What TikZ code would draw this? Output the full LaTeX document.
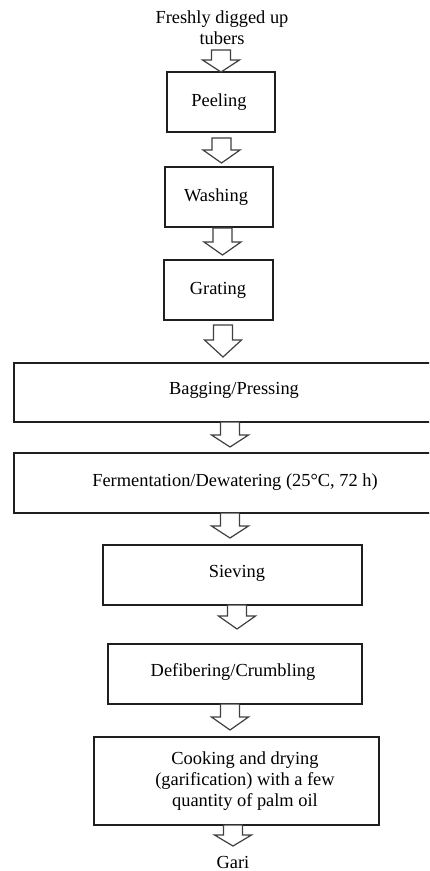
\documentclass[tikz,border=0pt]{standalone}
\usepackage{fontspec}
\setmainfont{Liberation Serif}
\tikzset{
  box/.style={draw=black!88, line width=1.5pt, rectangle, inner sep=0pt},
  lbl/.style={font=\fontsize{18.4}{21}\selectfont, align=center, inner sep=0pt},
  arr/.style={draw=black!75, line width=1.2pt, line join=miter, fill=white},
}
% #1 centre x, #2 top y, #3 shoulder y, #4 tip y
\newcommand\blockarr[4]{%
  \draw[arr] (#1-9.5,#2) -- (#1+9.5,#2) -- (#1+9.5,#3) -- (#1+18.5,#3) -- (#1,#4)
    -- (#1-18.5,#3) -- (#1-9.5,#3) -- cycle;}
\begin{document}
\begin{tikzpicture}[x=1pt,y=-1pt]
\useasboundingbox (0,0) rectangle (429,871);
\clip (0,0) rectangle (429,871);
\fill[white] (0,0) rectangle (429,871);

% title
\node[lbl] (start) at (222,28) {Freshly digged up\\tubers};

% boxes
\node[box, minimum width=108pt, minimum height=60pt] (peel) at (221,102) {};
\node[box, minimum width=108pt, minimum height=60pt] (wash) at (219,197) {};
\node[box, minimum width=109pt, minimum height=60pt] (grat) at (218.5,290) {};
\node[box, minimum width=420pt, minimum height=59pt] (bag) at (224,392.5) {};
\node[box, minimum width=420pt, minimum height=60pt] (ferm) at (224,483) {};
\node[box, minimum width=259pt, minimum height=60pt] (siev) at (232.5,575) {};
\node[box, minimum width=254pt, minimum height=60pt] (defib) at (235,674) {};
\node[box, minimum width=285pt, minimum height=88pt] (cook) at (236.5,781) {};

% texts
\node[lbl] (tpeel) at (219,102) {Peeling};
\node[lbl] (twash) at (216,197) {Washing};
\node[lbl] (tgrat) at (218,290) {Grating};
\node[lbl] (tbag) at (234,390) {Bagging/Pressing};
\node[lbl] (tferm) at (235,482) {Fermentation/Dewatering (25°C, 72 h)};
\node[lbl] (tsiev) at (237,573) {Sieving};
\node[lbl] (tdefib) at (233,672) {Defibering/Crumbling};
\node[lbl] (tcook) at (245,781) {Cooking and drying\\(garification) with a few\\quantity of palm oil};
\node[lbl] (gari) at (233,862) {Gari};

% hollow block arrows
\blockarr{221}{50}{60}{72}
\blockarr{221.5}{138}{150}{163}
\blockarr{222.5}{228}{242}{255}
\blockarr{223}{325}{340}{357}
\blockarr{230}{422}{435}{447}
\blockarr{230}{513}{526}{538}
\blockarr{237}{605}{616}{629}
\blockarr{230}{704}{717}{730}
\blockarr{233}{825}{835}{846}
\end{tikzpicture}
\end{document}
